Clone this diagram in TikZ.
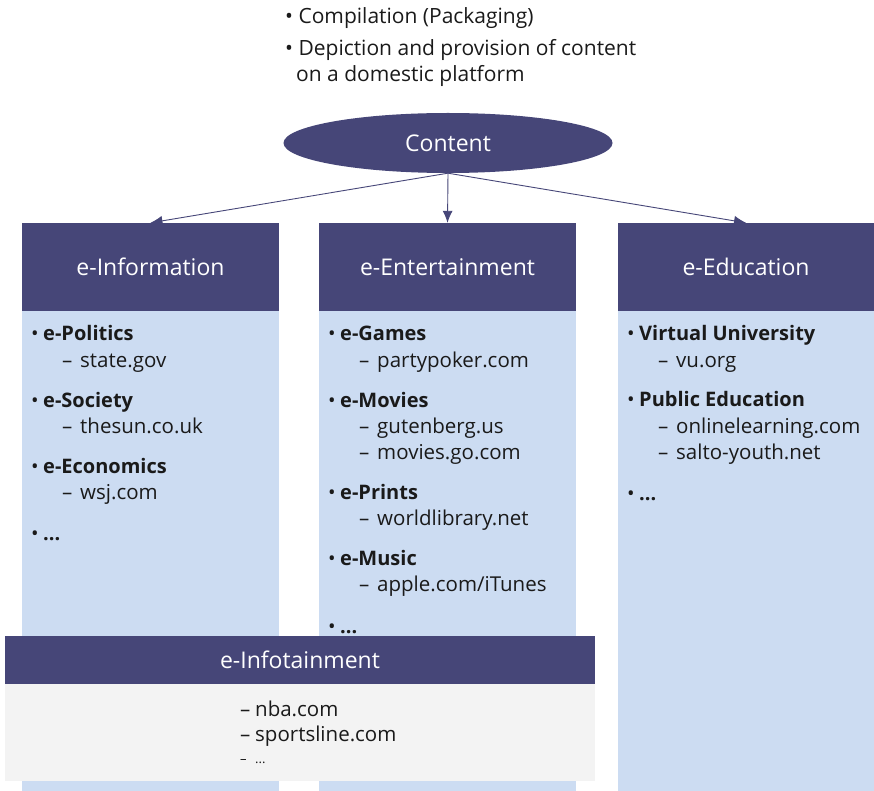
\documentclass[tikz,border=0pt]{standalone}
\usepackage{fontspec}
\setmainfont{Open Sans}
\usetikzlibrary{arrows.meta,shapes.geometric}
\definecolor{hdr}{HTML}{464678}
\definecolor{bodyblue}{HTML}{CCDCF2}
\definecolor{bodygrey}{HTML}{F3F3F3}
\definecolor{txt}{HTML}{1A1A1A}
\tikzset{
  hdrbox/.style={fill=hdr, draw=none, text=white, font=\fontsize{23}{26}\selectfont, inner sep=0pt},
  bodybox/.style={fill=bodyblue, draw=none, inner sep=0pt},
  item/.style={anchor=base west, inner sep=0pt, text=txt, font=\fontsize{20}{23}\selectfont\bfseries},
  sub/.style={anchor=base west, inner sep=0pt, text=txt, font=\fontsize{20.5}{23}\selectfont},
  topline/.style={anchor=base west, inner sep=0pt, text=txt, font=\fontsize{21}{24}\selectfont},
  conn/.style={draw=hdr, line width=0.9pt, -{Latex[length=12pt,width=10pt]}},
}
\newcommand{\bul}{\makebox[12pt][l]{\normalfont•}}
\newcommand{\dsh}{\makebox[18pt][l]{\normalfont–}}
\begin{document}
\begin{tikzpicture}[x=1pt,y=-1pt]
\useasboundingbox (0,0) rectangle (874,791);
% top text
\node[topline] (t1) at (285,24) {• Compilation (Packaging)};
\node[topline] (t2) at (285,56) {• Depiction and provision of content};
\node[topline] (t3) at (296,82) {on a domestic platform};
% ellipse
\node[ellipse, fill=hdr, draw=none, minimum width=329pt, minimum height=60pt, text=white, font=\fontsize{23}{26}\selectfont, inner sep=0pt] (content) at (448,143) {Content};
% column bodies
\fill[bodyblue] (22,311) rectangle (279,791);
\fill[bodyblue] (319,311) rectangle (576,791);
\fill[bodyblue] (618,311) rectangle (874,791);
% headers
\node[hdrbox, minimum width=257pt, minimum height=88pt] (h1) at (150.5,267) {e-Information};
\node[hdrbox, minimum width=257pt, minimum height=88pt] (h2) at (447.5,267) {e-Entertainment};
\node[hdrbox, minimum width=256pt, minimum height=88pt] (h3) at (746,267) {e-Education};
% connectors
\draw[conn] (content.south) -- (h1.north);
\draw[conn] (content.south) -- (h2.north);
\draw[conn] (content.south) -- (h3.north);
% column 1
\node[item] (a1) at (31,340) {\bul e-Politics};
\node[sub] (a2) at (62,367) {\dsh state.gov};
\node[item] (a3) at (31,407) {\bul e-Society};
\node[sub] (a4) at (62,433) {\dsh thesun.co.uk};
\node[item] (a5) at (31,473) {\bul e-Economics};
\node[sub] (a6) at (62,499) {\dsh wsj.com};
\node[item] (a7) at (31,540) {\bul ...};
% column 2
\node[item] (b1) at (328,340) {\bul e-Games};
\node[sub] (b2) at (359,367) {\dsh partypoker.com};
\node[item] (b3) at (328,407) {\bul e-Movies};
\node[sub] (b4) at (359,433) {\dsh gutenberg.us};
\node[sub] (b5) at (359,459) {\dsh movies.go.com};
\node[item] (b6) at (328,499) {\bul e-Prints};
\node[sub] (b7) at (359,525) {\dsh worldlibrary.net};
\node[item] (b8) at (328,565) {\bul e-Music};
\node[sub] (b9) at (359,591) {\dsh apple.com/iTunes};
\node[item] (b10) at (328,633) {\bul ...};
% column 3
\node[item] (c1) at (627,340) {\bul Virtual University};
\node[sub] (c2) at (658,367) {\dsh vu.org};
\node[item] (c3) at (627,406) {\bul Public Education};
\node[sub] (c4) at (658,433) {\dsh onlinelearning.com};
\node[sub] (c5) at (658,459) {\dsh salto-youth.net};
\node[item] (c6) at (627,500) {\bul ...};
% infotainment
\fill[bodygrey] (5,684) rectangle (595,781);
\node[hdrbox, minimum width=590pt, minimum height=48pt] (h4) at (300,660) {e-Infotainment};
\node[sub] (d1) at (240,716) {\makebox[15pt][l]{–}nba.com};
\node[sub] (d2) at (240,741) {\makebox[15pt][l]{–}sportsline.com};
\node[sub, font=\fontsize{13}{15}\selectfont] (d3) at (240,763) {\makebox[15pt][l]{–}...};
\end{tikzpicture}
\end{document}
